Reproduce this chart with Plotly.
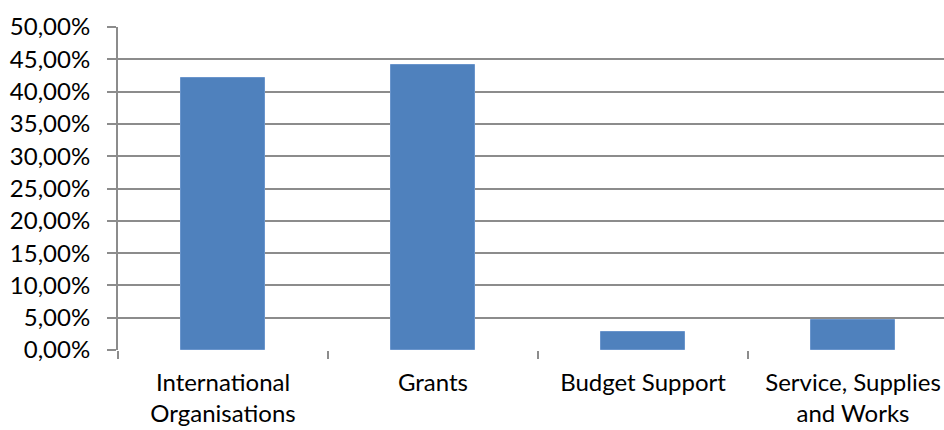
import plotly.graph_objects as go

# Share of funding by management mode
categories = ["International<br>Organisations", "Grants", "Budget Support", "Service, Supplies<br>and Works"]
shares = [42.06, 44.12, 2.83, 4.69]
y_ticks = [0, 5, 10, 15, 20, 25, 30, 35, 40, 45, 50]
y_tick_labels = [f"{v:.2f}".replace(".", ",") + "%" for v in y_ticks]

BAR = "#4F81BD"
GRID = "#8C8C8C"
FONT = dict(family="Lato, 'Open Sans', sans-serif", size=24, color="#000000")

fig = go.Figure(
    go.Bar(
        x=categories,
        y=shares,
        width=0.4,
        marker=dict(color=BAR, line=dict(color="#6A95CC", width=1)),
        hoverinfo="skip",
    )
)

fig.update_layout(
    width=944,
    height=430,
    margin=dict(l=118, r=0, t=27, b=80),
    paper_bgcolor="white",
    plot_bgcolor="white",
    font=FONT,
    showlegend=False,
    bargap=0,
)

fig.update_xaxes(
    type="category",
    range=[-0.5, 3.5 - 14 / 210],
    tickson="boundaries",
    ticks="outside",
    ticklen=8,
    tickcolor=GRID,
    tickwidth=2,
    ticklabelstandoff=16,
    showline=False,
    showgrid=False,
    tickfont=FONT,
)

fig.update_yaxes(
    range=[0, 50],
    tickvals=y_ticks,
    ticktext=y_tick_labels,
    ticks="outside",
    ticklen=9,
    tickcolor=GRID,
    tickwidth=2,
    ticklabelstandoff=12,
    showline=True,
    linecolor=GRID,
    linewidth=2,
    showgrid=True,
    gridcolor=GRID,
    gridwidth=2,
    zeroline=False,
    tickfont=FONT,
)

fig.write_html("out.html")
